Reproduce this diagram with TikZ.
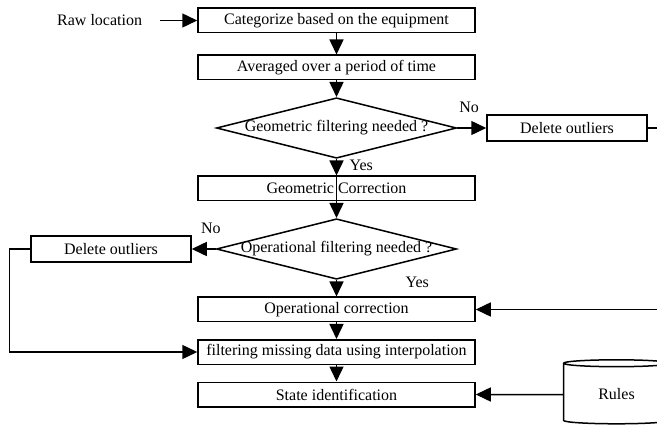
\documentclass[tikz,border=0pt]{standalone}
\usepackage{fontspec}
\setmainfont{Liberation Serif}
\usepackage{tikz}
\usetikzlibrary{arrows.meta,positioning,shapes.geometric}

\begin{document}
\begin{tikzpicture}[
  x=1pt, y=1pt,
  node distance=16.5pt,
  font=\fontsize{16}{18}\selectfont,
  stage/.style={draw, line width=1.5pt, minimum width=277pt, minimum height=24.5pt, inner sep=0pt},
  outlier/.style={draw, line width=1.5pt, minimum width=160pt, minimum height=26pt, inner sep=0pt},
  decision/.style={diamond, draw, line width=1.5pt, minimum width=240pt, minimum height=60.5pt, inner sep=0pt},
  store/.style={cylinder, shape border rotate=90, draw, line width=1.5pt, aspect=0.16, minimum width=106pt, minimum height=64pt},
  arrow/.style={-{Triangle[length=15pt,width=14pt]}, line width=1.5pt}
]
\useasboundingbox (0,0) rectangle (657,-425);

\node[stage] (cat) at (336.5,-20.5) {Categorize based on the equipment};
\node[left=37pt of cat, inner xsep=18pt] (raw) {Raw location};
\node[stage, below=21pt of cat] (avg) {Averaged over a period of time};
\node[decision, below=of avg] (geo) {\makebox[0pt]{Geometric filtering needed ?}};
\node[outlier, right=29pt of geo] (delR) {Delete outliers};
\node[stage, below=of geo] (gcor) {Geometric Correction};
\node[decision, below=of gcor] (op) {\makebox[0pt]{Operational filtering needed ?}};
\node[outlier, left=24pt of op] (delL) {Delete outliers};
\node[stage, below=of op] (opcor) {Operational correction};
\node[stage, below=of opcor] (filt) {filtering missing data using interpolation};
\node[stage, below=of filt] (state) {State identification};
\node[store, right=87pt of state] (rules) {Rules};

% loop ends leave the page on the right
\coordinate (bendR) at ([xshift=20pt]delR.east);
\coordinate (bendL) at ([xshift=-21pt]delL.west);

\draw[arrow] (raw) -- (cat);
\draw[arrow] (cat) -- (avg);
\draw[arrow] (avg) -- (geo);
\draw[arrow] (geo.east) -- node[above=11pt, pos=0.41] {No} (delR);
\draw[arrow] (geo.south) -- node[right=9pt, pos=0.4] {Yes} (gcor.north);
\draw[arrow] (gcor.north) -- (op.north);
\draw[arrow] (op.west) -- node[above=11pt, pos=0.2] {No} (delL);
\draw[arrow] (op.south) -- node[right=65pt, pos=0.15] {Yes} (opcor);
\draw[arrow] (delR.east) -- (bendR) |- (opcor.east);
\draw[arrow] (delL.west) -- (bendL) |- (filt.west);
\draw[arrow] (opcor) -- (filt);
\draw[arrow] (filt) -- (state);
\draw[arrow] (rules) -- (state);
\end{tikzpicture}
\end{document}
